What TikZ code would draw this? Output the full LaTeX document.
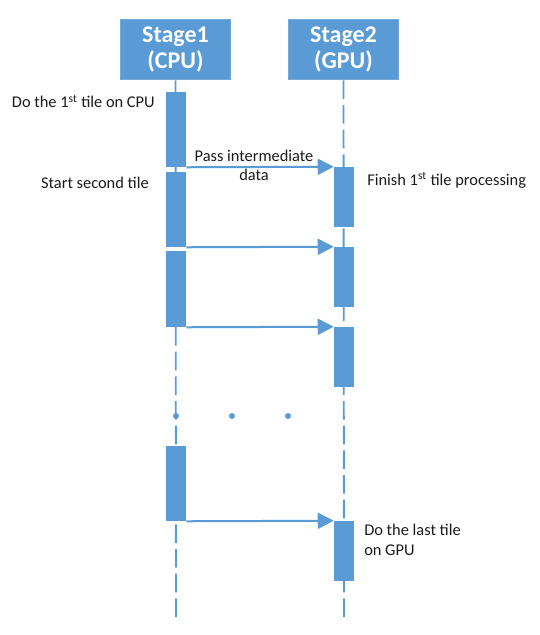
\documentclass[tikz,border=0pt]{standalone}
\usepackage{fontspec}
\setmainfont{Carlito}
\usetikzlibrary{arrows.meta,fit}
\definecolor{ublue}{HTML}{5B9BD5}
\definecolor{txt}{HTML}{1A1A1A}
\tikzset{
  head/.style={fill=ublue, draw=ublue!85!white, line width=0.8pt, minimum width=83pt, minimum height=45.5pt, inner sep=0pt,
    text=white, font=\fontsize{18}{19.5}\selectfont\bfseries, align=center},
  bar/.style={fill=ublue, draw=none, inner sep=0pt},
  life/.style={draw=ublue, line width=1.4pt, dash pattern=on 14pt off 4.5pt},
  msg/.style={draw=ublue, line width=1.5pt, -{Triangle[length=12pt,width=12pt]}},
  lbl/.style={text=txt, font=\fontsize{12.3}{15}\selectfont, inner sep=0pt},
  dotc/.style={circle, fill=ublue, inner sep=0pt, minimum size=4.5pt}
}
\begin{document}
\begin{tikzpicture}[x=0.75pt,y=-0.75pt]
\useasboundingbox (0,0) rectangle (539,635);
% headers
\node[head] (s1) at (175.5,49.5) {Stage1\\(CPU)};
\node[head] (s2) at (343.5,49.5) {Stage2\\(GPU)};
% lifeline ends
\coordinate (e1) at (176,618);
\coordinate (e2) at (344,618);
\draw[life] (s1.south) -- (e1);
\draw[life] (s2.south) -- (e2);
% CPU bars
\node[bar, fit={(166,92)(186,167)}] (c1) {};
\node[bar, fit={(166,172)(186,247)}] (c2) {};
\node[bar, fit={(166,251)(186,327)}] (c3) {};
\node[bar, fit={(166,446)(186,521)}] (c4) {};
% GPU bars
\node[bar, fit={(334,167)(354,227)}] (g1) {};
\node[bar, fit={(334,247)(354,307)}] (g2) {};
\node[bar, fit={(334,327)(354,387)}] (g3) {};
\node[bar, fit={(334,521)(354,581)}] (g4) {};
% messages
\draw[msg] (c1.south east) -- (g1.north west);
\draw[msg] (c2.south east) -- (g2.north west);
\draw[msg] (c3.south east) -- (g3.north west);
\draw[msg] (c4.south east) -- (g4.north west);
% dots
\node[dotc] (d1) at (176,416) {};
\node[dotc] (d2) at (232,416) {};
\node[dotc] (d3) at (288,416) {};
% labels
\node[lbl, anchor=base east] (t1) at (155,108) {Do the 1\textsuperscript{st} tile on CPU};
\node[lbl, anchor=base east] (t2) at (149,188) {Start second tile};
\node[lbl, anchor=base] (t3) at (254,161) {Pass intermediate};
\node[lbl, anchor=base] (t4) at (254,180) {data};
\node[lbl, anchor=base west] (t5) at (367,185) {Finish 1\textsuperscript{st} tile processing};
\node[lbl, anchor=base west] (t6) at (364,535) {Do the last tile};
\node[lbl, anchor=base west] (t7) at (364,555) {on GPU};
\end{tikzpicture}
\end{document}
